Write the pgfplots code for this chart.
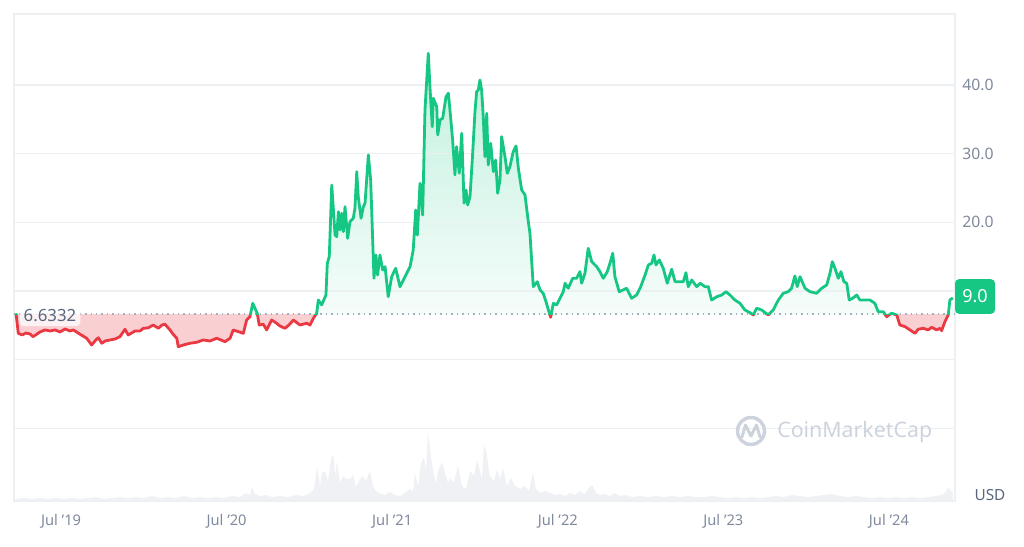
\documentclass[border=0pt]{standalone}
\usepackage{pgfplots}
\usepackage{pgfplotstable}
\pgfplotsset{compat=1.18}
\usepackage{fontspec}
\setmainfont{Noto Sans}
\definecolor{cmcgreen}{HTML}{16C784}
\definecolor{cmcred}{HTML}{EA3943}
\definecolor{redfill}{RGB}{250,207,210}
\definecolor{tickgrey}{HTML}{808A9D}
\definecolor{gridgrey}{HTML}{EDF0F3}
\definecolor{darkgrey}{HTML}{58667E}
\definecolor{volgrey}{HTML}{EFF1F4}
\definecolor{wmgrey}{HTML}{CDD3DD}
\definecolor{dotgrey}{HTML}{A6AFBE}

\pgfplotstableread{
x y
2019.228 6.76
2019.242 3.84
2019.265 3.60
2019.289 3.89
2019.313 3.74
2019.331 3.35
2019.373 4.03
2019.403 4.33
2019.434 4.18
2019.464 4.33
2019.494 4.03
2019.524 4.47
2019.554 4.18
2019.574 4.33
2019.615 3.70
2019.655 3.12
2019.685 2.14
2019.705 2.72
2019.725 3.20
2019.746 2.39
2019.766 2.72
2019.796 2.87
2019.826 3.01
2019.856 3.35
2019.886 4.43
2019.906 3.60
2019.947 4.18
2019.977 4.18
2019.997 4.57
2020.025 4.62
2020.057 5.05
2020.088 4.57
2020.110 5.05
2020.128 5.16
2020.158 4.33
2020.176 3.74
2020.199 3.12
2020.208 1.89
2020.239 2.14
2020.279 2.39
2020.319 2.53
2020.359 2.87
2020.400 2.72
2020.440 3.12
2020.466 2.87
2020.490 2.62
2020.521 3.12
2020.540 4.33
2020.571 4.08
2020.601 3.84
2020.621 5.78
2020.641 6.26
2020.658 8.21
2020.671 7.49
2020.685 6.76
2020.697 5.05
2020.722 5.16
2020.742 4.33
2020.772 5.78
2020.802 5.30
2020.822 4.91
2020.853 4.57
2020.883 5.20
2020.903 5.78
2020.943 5.05
2020.984 5.30
2021.004 5.05
2021.024 6.03
2021.044 6.76
2021.054 8.69
2021.074 7.97
2021.100 9.42
2021.108 14.04
2021.120 15.00
2021.135 25.44
2021.155 18.16
2021.165 17.91
2021.175 21.55
2021.185 18.89
2021.195 21.32
2021.205 18.64
2021.215 22.28
2021.231 17.68
2021.245 20.10
2021.265 20.59
2021.275 22.05
2021.286 27.38
2021.295 23.74
2021.312 20.59
2021.326 22.28
2021.336 22.78
2021.356 29.81
2021.370 26.17
2021.390 11.85
2021.402 15.25
2021.412 12.33
2021.426 15.25
2021.443 13.06
2021.457 13.54
2021.476 9.17
2021.497 12.09
2021.521 13.31
2021.547 10.63
2021.588 12.58
2021.608 13.54
2021.627 15.98
2021.642 21.80
2021.652 18.16
2021.668 25.69
2021.684 21.07
2021.698 36.36
2021.718 44.62
2021.728 39.76
2021.742 33.93
2021.748 38.07
2021.769 36.84
2021.775 32.72
2021.789 34.91
2021.805 35.15
2021.825 38.30
2021.839 38.80
2021.849 36.36
2021.865 32.00
2021.879 26.90
2021.889 31.02
2021.905 27.15
2021.920 32.97
2021.934 22.78
2021.946 24.71
2021.956 22.53
2021.970 23.74
2021.986 30.06
2022.000 36.12
2022.010 39.03
2022.020 39.28
2022.030 40.73
2022.040 39.28
2022.050 35.39
2022.060 29.56
2022.071 35.88
2022.080 28.35
2022.095 31.51
2022.111 27.38
2022.125 29.08
2022.137 24.23
2022.151 26.17
2022.161 32.48
2022.181 29.56
2022.195 27.15
2022.211 28.11
2022.231 30.29
2022.248 31.12
2022.262 27.87
2022.282 24.71
2022.302 23.99
2022.322 20.10
2022.332 18.41
2022.352 10.63
2022.376 11.36
2022.393 10.15
2022.412 9.67
2022.429 8.45
2022.449 6.76
2022.457 6.17
2022.473 8.21
2022.493 7.97
2022.513 8.94
2022.533 9.90
2022.544 11.13
2022.563 10.40
2022.590 11.85
2022.614 11.85
2022.634 12.82
2022.644 11.13
2022.664 12.58
2022.684 16.22
2022.705 14.27
2022.735 13.54
2022.755 12.82
2022.775 11.85
2022.799 12.82
2022.815 14.04
2022.832 15.50
2022.845 12.09
2022.871 9.90
2022.916 10.40
2022.946 8.94
2022.976 9.42
2023.001 10.63
2023.027 12.33
2023.047 13.79
2023.067 14.04
2023.081 15.25
2023.093 13.79
2023.113 14.52
2023.137 13.31
2023.161 11.13
2023.188 13.17
2023.208 11.36
2023.258 11.36
2023.274 12.67
2023.288 10.63
2023.309 11.61
2023.339 10.63
2023.359 11.13
2023.389 10.63
2023.409 10.63
2023.429 8.69
2023.460 9.17
2023.490 9.42
2023.516 9.90
2023.540 9.42
2023.570 8.69
2023.600 8.21
2023.630 7.24
2023.661 6.84
2023.681 6.51
2023.701 7.49
2023.731 7.24
2023.771 6.51
2023.801 7.24
2023.832 8.69
2023.862 9.67
2023.892 9.90
2023.912 10.40
2023.932 12.19
2023.946 10.63
2023.963 12.09
2023.993 10.40
2024.023 9.90
2024.063 9.67
2024.094 10.40
2024.124 10.88
2024.144 12.58
2024.158 14.27
2024.174 13.31
2024.194 11.85
2024.210 12.82
2024.228 11.36
2024.245 11.13
2024.260 8.69
2024.281 8.94
2024.305 9.42
2024.325 8.69
2024.355 8.69
2024.385 8.69
2024.415 8.21
2024.435 6.99
2024.466 6.99
2024.486 6.26
2024.516 6.76
2024.547 6.51
2024.566 5.05
2024.597 4.81
2024.627 4.33
2024.657 3.84
2024.677 4.43
2024.707 4.57
2024.737 4.33
2024.758 4.72
2024.788 4.33
2024.808 4.57
2024.818 4.22
2024.838 5.53
2024.858 6.51
2024.868 8.69
2024.886 9.00
}\price

\pgfplotstableread{
x v
2019.228 2
2019.277 3
2019.325 2
2019.373 3
2019.422 2
2019.470 3
2019.518 2
2019.566 3
2019.615 2
2019.663 3
2019.711 4
2019.760 2
2019.808 3
2019.856 4
2019.905 3
2019.953 4
2020.001 3
2020.050 5
2020.098 3
2020.146 4
2020.194 3
2020.243 5
2020.291 3
2020.339 4
2020.388 3
2020.436 4
2020.484 3
2020.533 5
2020.581 4
2020.617 8
2020.641 6
2020.653 14
2020.671 7
2020.702 5
2020.738 6
2020.774 4
2020.822 5
2020.871 4
2020.919 6
2020.967 5
2021.004 8
2021.028 12
2021.046 34
2021.064 15
2021.076 28
2021.094 30
2021.112 20
2021.136 46
2021.148 43
2021.155 25
2021.167 40
2021.185 18
2021.203 25
2021.221 22
2021.245 22
2021.263 26
2021.281 14
2021.293 18
2021.318 25
2021.342 20
2021.366 30
2021.384 15
2021.402 10
2021.426 8
2021.457 6
2021.487 9
2021.517 6
2021.547 5
2021.577 8
2021.608 12
2021.626 10
2021.638 28
2021.656 15
2021.674 38
2021.692 44
2021.704 30
2021.716 69
2021.728 55
2021.734 44
2021.752 25
2021.765 18
2021.777 30
2021.801 39
2021.825 25
2021.837 18
2021.849 23
2021.873 18
2021.897 36
2021.922 15
2021.946 12
2021.970 30
2021.994 25
2022.012 41
2022.030 30
2022.042 22
2022.054 57
2022.072 46
2022.089 25
2022.115 20
2022.133 31
2022.151 22
2022.169 33
2022.193 15
2022.217 23
2022.242 15
2022.272 12
2022.302 15
2022.326 10
2022.350 29
2022.368 12
2022.393 8
2022.423 10
2022.453 8
2022.483 6
2022.513 7
2022.544 5
2022.574 8
2022.604 6
2022.634 10
2022.664 7
2022.682 12
2022.707 16
2022.731 8
2022.755 6
2022.785 7
2022.815 5
2022.845 8
2022.876 5
2022.906 6
2022.948 4
2022.996 5
2023.045 4
2023.093 5
2023.141 4
2023.190 5
2023.238 4
2023.286 5
2023.335 4
2023.383 4
2023.431 5
2023.479 4
2023.528 3
2023.576 4
2023.624 3
2023.673 4
2023.721 3
2023.769 4
2023.818 5
2023.866 4
2023.914 6
2023.963 5
2024.011 4
2024.059 5
2024.107 6
2024.156 7
2024.204 5
2024.252 4
2024.301 5
2024.349 4
2024.397 3
2024.446 4
2024.494 3
2024.542 4
2024.591 3
2024.639 4
2024.687 3
2024.736 4
2024.784 5
2024.820 6
2024.844 9
2024.856 14
2024.874 10
2024.886 8
}\volume

\pgfplotsset{
  pane/.style={at={(10.5pt,33.75pt)}, anchor=south west, scale only axis,
    width=705.75pt, height=365.25pt,
    xmin=2019.216, xmax=2024.899, ymin=-20.58, ymax=50.34},
  layer/.style={pane, hide axis},
}

\begin{document}
\begin{tikzpicture}[x=0.75pt,y=0.75pt]
\useasboundingbox (0,0) rectangle (1024,546);

% volume pane
\begin{axis}[
  at={(10.5pt,33.75pt)}, anchor=south west, scale only axis,
  width=705.75pt, height=54pt,
  xmin=2019.216, xmax=2024.899, ymin=0, ymax=72,
  hide axis,
]
\addplot[draw=none, fill=volgrey] table[x=x,y=v] {\volume} \closedcycle;
\end{axis}

% red fill (below the base price)
\begin{scope}
\clip (0,0) rectangle (1024,231.87);
\begin{axis}[layer]
\addplot[draw=none, fill=redfill] coordinates {(2019.228,6.6332) (2024.886,6.6332)} \closedcycle;
\addplot[draw=none, fill=white] table[x=x,y=y] {\price} \closedcycle;
\end{axis}
\end{scope}

% green gradient fill (above the base price)
\begin{scope}
\clip (0,231.87) rectangle (1024,546);
\begin{axis}[layer]
\addplot[draw=none, top color=cmcgreen!27!white, bottom color=white] table[x=x,y=y] {\price} \closedcycle;
\end{axis}
\end{scope}

% frame, grid, ticks, base line
\begin{axis}[
  pane,
  axis line style={draw=gridgrey, line width=0.8pt},
  xtick={2019.5,2020.5,2021.5,2022.5,2023.5,2024.5},
  xticklabels={Jul '19,Jul '20,Jul '21,Jul '22,Jul '23,Jul '24},
  ytick={-10,0,10,20,30,40},
  yticklabels={,,,20.0,30.0,40.0},
  yticklabel pos=right,
  ymajorgrids, major grid style={draw=gridgrey, line width=0.8pt},
  major tick length=0pt, tick style={draw=none},
  /pgf/number format/assume math mode=true,
  ticklabel style={text=tickgrey},
  xticklabel style={font=\fontsize{11}{13}\selectfont, yshift=-6.5pt},
  yticklabel style={font=\fontsize{11.8}{13}\selectfont, anchor=west, xshift=2pt},
]
\addplot[dotgrey, line width=1pt, dash pattern=on 1.1pt off 3pt] coordinates {(2019.216,6.6332) (2024.899,6.6332)};
\end{axis}

% red line
\begin{scope}
\clip (0,0) rectangle (1024,231.87);
\begin{axis}[layer]
\addplot[cmcred, line width=2.1pt, line join=round] table[x=x,y=y] {\price};
\end{axis}
\end{scope}

% green line
\begin{scope}
\clip (0,231.87) rectangle (1024,546);
\begin{axis}[layer]
\addplot[cmcgreen, line width=2.1pt, line join=round] table[x=x,y=y] {\price};
\end{axis}
\end{scope}

% base price label
\node[fill=white, fill opacity=0.75, text opacity=1, rounded corners=3pt,
      inner xsep=3pt, inner ysep=3pt, text=darkgrey, font=\fontsize{12.6}{14}\selectfont]
      at (50,230) {6.6332};

% current price label
\node[fill=cmcgreen, rounded corners=3pt, minimum width=30pt, minimum height=26pt,
      inner sep=0pt, text=white, font=\fontsize{13.5}{15}\selectfont]
      at (975,249.5) {9.0};

% USD
\node[text=darkgrey, font=\bfseries\fontsize{11.5}{13}\selectfont] at (990,51) {USD};

% watermark
\draw[wmgrey, line width=2.6pt] (751,115) circle (13.5);
\draw[wmgrey, line width=2.2pt, line join=round, line cap=round]
  (742,109) -- (745.5,121) -- (751,110) -- (756.5,121) -- (760,109);
\node[anchor=west, text=wmgrey, font=\bfseries\fontsize{16}{18}\selectfont, inner sep=0pt] at (777,114) {CoinMarketCap};
\end{tikzpicture}
\end{document}
